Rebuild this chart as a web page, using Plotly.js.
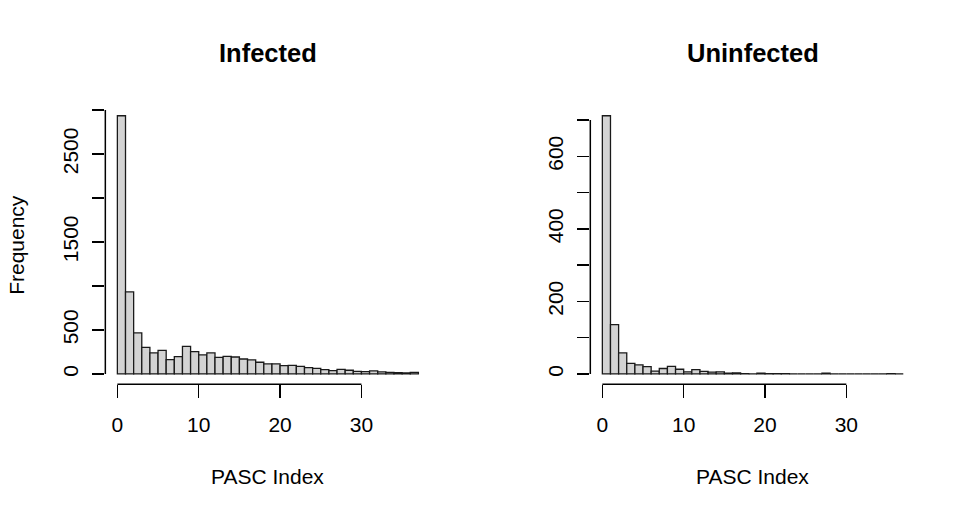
<!DOCTYPE html>
<html>
<head>
<meta charset="utf-8">
<script src="https://cdn.plot.ly/plotly-3.0.1.min.js"></script>
<style>html,body{margin:0;padding:0;background:#fff;}#chart{width:969px;height:517px;}</style>
</head>
<body>
<div id="chart"></div>
<script>
// Histogram bin edges (PASC Index), unit-width bins from 0 to 37
var breaks = [];
for (var b = 0; b <= 37; b++) breaks.push(b);

// Counts per bin
var infectedCounts = [2935, 932, 466, 303, 239, 269, 163, 197, 314, 254, 216, 239, 189, 201, 193, 170, 159, 133, 114, 114, 95, 98, 87, 72, 64, 49, 38, 53, 42, 30, 27, 34, 23, 19, 15, 11, 19];
var uninfectedCounts = [712, 136, 58, 29, 25, 20, 8, 15, 21, 13, 6, 12, 7, 5, 6, 2, 3, 1, 0, 2, 1, 1, 1, 0, 0, 0, 0, 2, 0, 0, 0, 0, 0, 0, 0, 1, 0];

// Axis ticks
var xTicks = [0, 10, 20, 30];
var yTicksLeft = [0, 500, 1000, 1500, 2000, 2500, 3000];
var yTickTextLeft = ['0', '500', '', '1500', '', '2500', ''];
var yTicksRight = [0, 100, 200, 300, 400, 500, 600, 700];
var yTickTextRight = ['0', '', '200', '', '400', '', '600', ''];

var panelTitles = ['Infected', 'Uninfected'];
var xLabel = 'PASC Index';
var yLabel = 'Frequency';

var centers = [], widths = [];
for (var i = 0; i < breaks.length - 1; i++) {
  centers.push((breaks[i] + breaks[i + 1]) / 2);
  widths.push(breaks[i + 1] - breaks[i]);
}

function barTrace(counts, xa, ya, name) {
  return {
    type: 'bar', x: centers, y: counts, width: widths,
    xaxis: xa, yaxis: ya, name: name, showlegend: false,
    marker: {color: '#d3d3d3', line: {color: '#1a1a1a', width: 1.3}},
    hoverinfo: 'x+y'
  };
}

var font = {family: 'Liberation Sans, Arial, Helvetica, sans-serif', color: '#000'};
var tickFont = {family: font.family, size: 21, color: '#000'};

function pad(lo, hi) { var d = (hi - lo) * 0.04; return [lo - d, hi + d]; }
var xr = pad(breaks[0], breaks[breaks.length - 1]);
var yrL = pad(0, Math.max.apply(null, infectedCounts));
var yrR = pad(0, Math.max.apply(null, uninfectedCounts));

var xCommon = {
  ticks: 'outside', ticklen: 13, tickwidth: 1.5, tickcolor: '#000',
  showline: false, showgrid: false, zeroline: false,
  tickvals: xTicks, ticktext: xTicks.map(String), tickfont: tickFont,
  ticklabelstandoff: 9, fixedrange: true
};
var yCommon = {
  ticks: 'outside', ticklen: 12, tickwidth: 1.5, tickcolor: '#000',
  showline: false, showgrid: false, zeroline: false,
  tickangle: -90, tickfont: tickFont, ticklabelstandoff: 6, fixedrange: true
};

var xDomL = [0.1087, 0.4442], xDomR = [0.6092, 0.9446], yDom = [0.2567, 0.7961];

var layout = {
  width: 969, height: 517,
  margin: {l: 0, r: 0, t: 0, b: 0},
  paper_bgcolor: '#fff', plot_bgcolor: '#fff',
  bargap: 0, font: font, showlegend: false,
  xaxis: Object.assign({}, xCommon, {domain: xDomL, range: xr, anchor: 'y'}),
  yaxis: Object.assign({}, yCommon, {domain: yDom, range: yrL, anchor: 'x', tickvals: yTicksLeft, ticktext: yTickTextLeft}),
  xaxis2: Object.assign({}, xCommon, {domain: xDomR, range: xr, anchor: 'y2'}),
  yaxis2: Object.assign({}, yCommon, {domain: yDom, range: yrR, anchor: 'x2', tickvals: yTicksRight, ticktext: yTickTextRight}),
  shapes: [],
  annotations: []
};

function axisLines(xref, yref, yt) {
  var ln = {color: '#000', width: 1.5};
  layout.shapes.push({type: 'line', xref: xref, yref: yref + ' domain', x0: xTicks[0], x1: xTicks[xTicks.length - 1], y0: 0, y1: 0, line: ln});
  layout.shapes.push({type: 'line', xref: xref + ' domain', yref: yref, x0: 0, x1: 0, y0: yt[0], y1: yt[yt.length - 1], line: ln});
}
axisLines('x', 'y', yTicksLeft);
axisLines('x2', 'y2', yTicksRight);

var doms = [xDomL, xDomR];
for (var k = 0; k < 2; k++) {
  var cx = (doms[k][0] + doms[k][1]) / 2;
  layout.annotations.push({text: '<b>' + panelTitles[k] + '</b>', xref: 'paper', yref: 'paper', x: cx, y: 1 - 53 / 517, xanchor: 'center', yanchor: 'middle', showarrow: false, font: {family: font.family, size: 25.5, color: '#000'}});
  layout.annotations.push({text: xLabel, xref: 'paper', yref: 'paper', x: cx, y: 1 - 476 / 517, xanchor: 'center', yanchor: 'middle', showarrow: false, font: {family: font.family, size: 21, color: '#000'}});
}
layout.annotations.push({text: yLabel, xref: 'paper', yref: 'paper', x: 17 / 969, y: (yDom[0] + yDom[1]) / 2, xanchor: 'center', yanchor: 'middle', textangle: -90, showarrow: false, font: {family: font.family, size: 21, color: '#000'}});

var data = [barTrace(infectedCounts, 'x', 'y', 'Infected'), barTrace(uninfectedCounts, 'x2', 'y2', 'Uninfected')];
Plotly.newPlot('chart', data, layout, {displayModeBar: false, staticPlot: true});
</script>
</body>
</html>
